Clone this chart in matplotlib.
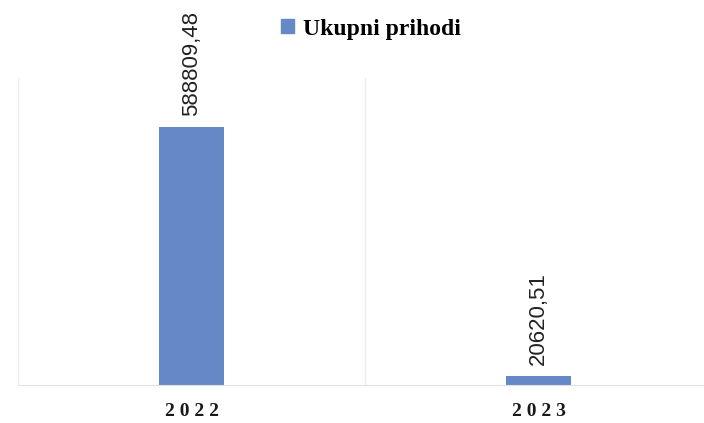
import matplotlib
matplotlib.use("Agg")
import matplotlib.pyplot as plt
from matplotlib.patches import Patch

years = ["2022", "2023"]
prihodi = [588809.48, 20620.51]
value_labels = ["588809,48", "20620,51"]
series_name = "Ukupni prihodi"

BAR = "#6489c6"
GRID = "#eeeeee"

W, H = 704, 423
fig = plt.figure(figsize=(W / 100, H / 100), dpi=100)
# plot area: left edge at x=18px, baseline at y=385px, slightly clipped on the right
ax = fig.add_axes([18 / W, (H - 385) / H, 694 / W, 307 / H])

x = range(len(years))
ax.bar(x, prihodi, width=0.19, color=BAR, zorder=2)
ax.set_xlim(-0.5, 1.5)
ax.set_ylim(0, 700000)

for xi, v, lab in zip(x, prihodi, value_labels):
    ax.annotate(lab, (xi, v), xytext=(0, 8), textcoords="offset points",
                rotation=90, ha="center", va="bottom",
                fontsize=16, family="Liberation Sans", color="#222222")

# category separators like the original spreadsheet chart
for b in [-0.5, 0.5, 1.5]:
    ax.axvline(b, color=GRID, lw=1, zorder=1)

ax.set_xticks(list(x))
ax.set_xticklabels([" ".join(y) for y in years], family="Liberation Serif",
                   fontsize=14, fontweight="bold", color="#1a1a1a")
ax.tick_params(axis="x", length=0, pad=13)
ax.set_yticks([])
for s in ["top", "right", "left"]:
    ax.spines[s].set_visible(False)
ax.spines["bottom"].set_color("#e0e0e0")

fig.legend(handles=[Patch(color=BAR, label=series_name)],
           loc="center", bbox_to_anchor=(371 / W, 1 - 29 / H),
           frameon=False, handlelength=0.55, handleheight=0.55, handletextpad=0.4,
           prop={"family": "Liberation Serif", "size": 17, "weight": "bold"})

fig.savefig("out.png", dpi=100)
